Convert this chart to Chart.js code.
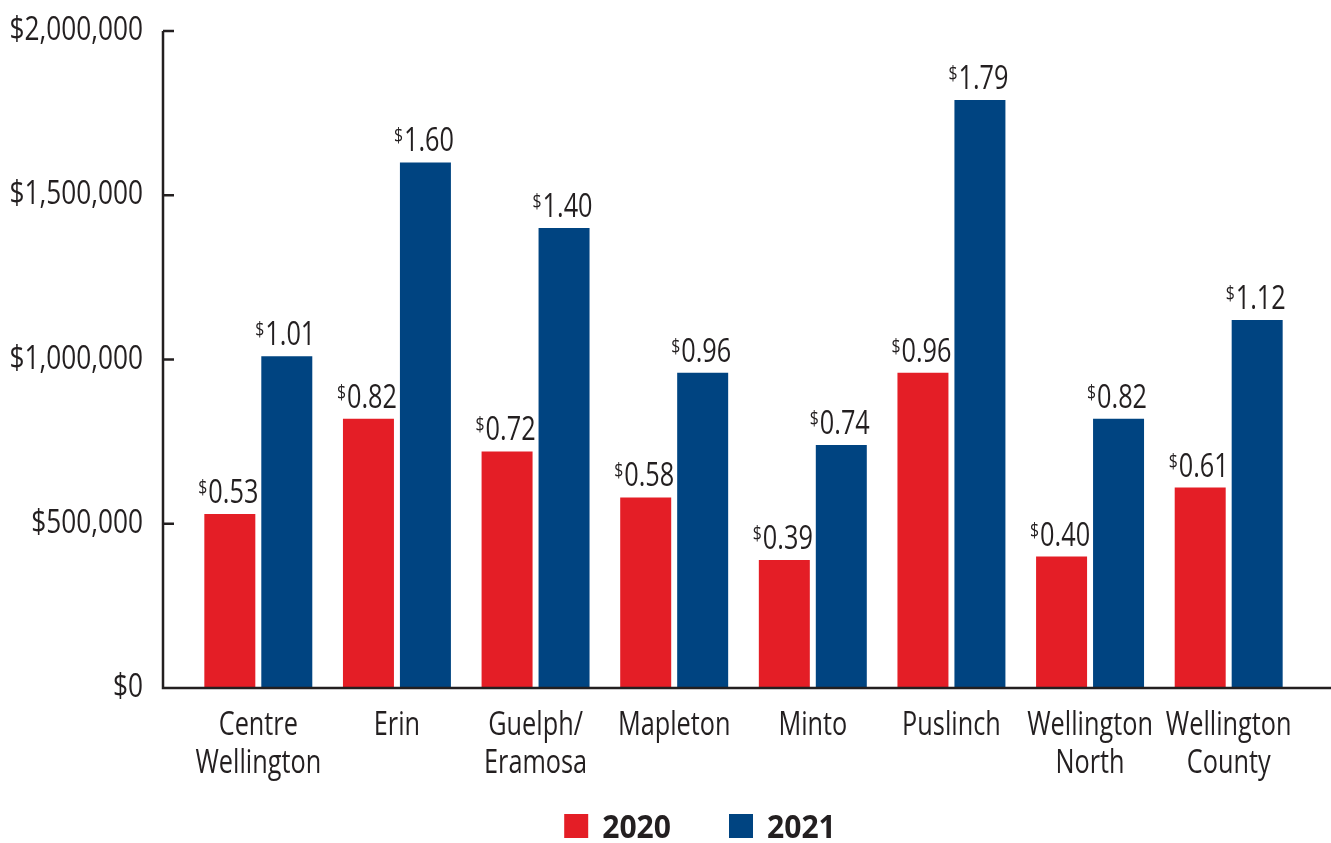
<!DOCTYPE html>
<html>
<head>
<meta charset="utf-8">
<script src="https://cdn.jsdelivr.net/npm/chart.js@4"></script>
<style>
    html, body { margin: 0; padding: 0; background: #ffffff; }
    #wrap { width: 1331px; height: 843px; }
</style>
</head>
<body>
<div id="wrap"><canvas id="grafico"></canvas></div>
<script>
var municipios = [['Centre', 'Wellington'], ['Erin'], ['Guelph/', 'Eramosa'], ['Mapleton'], ['Minto'], ['Puslinch'], ['Wellington', 'North'], ['Wellington', 'County']]
var anos = ['2020', '2021']
var valores2020 = [530000, 820000, 720000, 580000, 390000, 960000, 400000, 610000]
var valores2021 = [1010000, 1600000, 1400000, 960000, 740000, 1790000, 820000, 1120000]
var ticksY = [0, 500000, 1000000, 1500000, 2000000]
var cores = ['#e41e26', '#004481']

var fonte = '"Open Sans", "DejaVu Sans", sans-serif'
var corTexto = '#231f20'
var ESTREITO = 0.79   // fonte condensada: comprime o texto na horizontal

// desenha texto comprimido
function texto(ctx, s, x, y, alinhamento, tamanho, negrito, escala){
    var esc = escala || ESTREITO
    ctx.save()
    ctx.font = (negrito ? 'bold ' : '') + tamanho + 'px ' + fonte
    ctx.fillStyle = corTexto
    ctx.textAlign = alinhamento
    ctx.textBaseline = 'alphabetic'
    ctx.translate(x, y)
    ctx.scale(esc, 1)
    ctx.fillText(s, 0, 0)
    ctx.restore()
}

function largura(ctx, s, tamanho, negrito, escala){
    ctx.save()
    ctx.font = (negrito ? 'bold ' : '') + tamanho + 'px ' + fonte
    var w = ctx.measureText(s).width * (escala || ESTREITO)
    ctx.restore()
    return w
}

// eixos, rotulos dos eixos e legenda
var eixos = {
    id: 'eixos',
    afterDraw(chart) {
        var ctx = chart.ctx
        var y = chart.scales.y
        var x = chart.scales.x
        var x0 = 163
        ctx.save()
        ctx.strokeStyle = corTexto
        ctx.lineWidth = 2.5
        ctx.beginPath()
        ctx.moveTo(x0, y.getPixelForValue(2000000))
        ctx.lineTo(x0, y.getPixelForValue(0))
        ctx.lineTo(chart.width, y.getPixelForValue(0))
        ticksY.forEach(function(t){
            var py = y.getPixelForValue(t)
            ctx.moveTo(x0, py)
            ctx.lineTo(x0 + 11, py)
        })
        ctx.stroke()
        ctx.restore()

        ticksY.forEach(function(t){
            var py = y.getPixelForValue(t)
            texto(ctx, '$' + t.toLocaleString('en-US'), 143, py + 9, 'right', 32, false, 0.82)
        })

        var base = y.getPixelForValue(0)
        municipios.forEach(function(linhas, i){
            var px = x.getPixelForTick(i)
            linhas.forEach(function(l, k){
                texto(ctx, l, px, base + 47 + k * 38, 'center', 32)
            })
        })

        // legenda
        var itens = chart.data.datasets.map(function(ds){
            return { nome: ds.label, cor: ds.backgroundColor, w: largura(ctx, ds.label, 32, true, 0.94) }
        })
        var caixa = 24, gapTexto = 14, gapItem = 58
        var total = 0
        itens.forEach(function(it, i){
            total += caixa + gapTexto + it.w + (i < itens.length - 1 ? gapItem : 0)
        })
        var lx = 700 - total / 2
        var ly = 838
        itens.forEach(function(it){
            ctx.fillStyle = it.cor
            ctx.fillRect(lx, ly - caixa, caixa, caixa)
            texto(ctx, it.nome, lx + caixa + gapTexto, ly, 'left', 32, true, 0.94)
            lx += caixa + gapTexto + it.w + gapItem
        })
    }
}

// rotulos "$0.53" acima das barras
var rotulos = {
    id: 'rotulos',
    afterDatasetsDraw(chart) {
        var ctx = chart.ctx
        chart.data.datasets.forEach(function(ds, i){
            var meta = chart.getDatasetMeta(i)
            meta.data.forEach(function(barra, j){
                var txt = (ds.data[j] / 1000000).toFixed(2)
                var wS = largura(ctx, '$', 20)
                var wN = largura(ctx, txt, 32)
                var inicio = barra.x - (wS + wN) / 2 - 2
                var base = barra.y - 11
                texto(ctx, '$', inicio, base - 9, 'left', 20)
                texto(ctx, txt, inicio + wS + 1, base, 'left', 32)
            })
        })
    }
}

new Chart(document.getElementById('grafico'), {
    type: 'bar',
    data: {
        labels: municipios,
        datasets: [
            { label: anos[0], data: valores2020, backgroundColor: cores[0], barPercentage: 0.895, categoryPercentage: 0.822 },
            { label: anos[1], data: valores2021, backgroundColor: cores[1], barPercentage: 0.895, categoryPercentage: 0.822 }
        ]
    },
    options: {
        responsive: true,
        maintainAspectRatio: false,
        animation: false,
        layout: { padding: { left: 189, right: 33, top: 31, bottom: 155 } },
        scales: {
            x: {
                grid: { display: false, drawTicks: false },
                border: { display: false },
                ticks: { display: false }
            },
            y: {
                min: 0,
                max: 2000000,
                grid: { display: false, drawTicks: false },
                border: { display: false },
                ticks: { display: false }
            }
        },
        plugins: {
            legend: { display: false },
            tooltip: { enabled: false }
        }
    },
    plugins: [eixos, rotulos]
})
</script>
</body>
</html>
